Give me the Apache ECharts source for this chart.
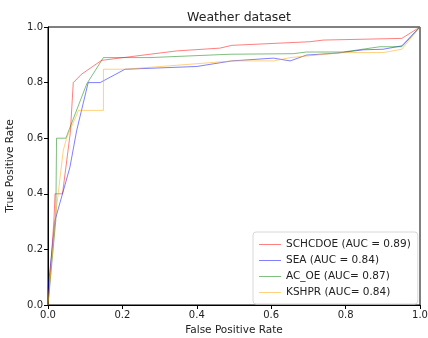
<!DOCTYPE html>
<html>
<head>
<meta charset="utf-8">
<script src="https://cdn.jsdelivr.net/npm/echarts@6/dist/echarts.min.js"></script>
<style>
  html, body { margin: 0; padding: 0; background: #fff; }
  #roc-chart { width: 428px; height: 338px; }
</style>
</head>
<body>
<div id="roc-chart"></div>
<script>
// ROC points
const schFpr = [0, 0.016, 0.019, 0.039, 0.060, 0.068, 0.09, 0.144, 0.274, 0.346, 0.462, 0.494, 0.704, 0.74, 0.951, 1];
const schTpr = [0, 0.305, 0.40, 0.40, 0.62, 0.80, 0.83, 0.88, 0.902, 0.914, 0.924, 0.934, 0.947, 0.953, 0.959, 1];

const seaFpr = [0, 0.001, 0.019, 0.039, 0.059, 0.077, 0.108, 0.14, 0.207, 0.40, 0.494, 0.606, 0.651, 0.695, 0.776, 0.848, 0.901, 0.951, 1];
const seaTpr = [0, 0.07, 0.305, 0.40, 0.496, 0.627, 0.80, 0.80, 0.848, 0.858, 0.878, 0.888, 0.878, 0.899, 0.906, 0.918, 0.92, 0.932, 1];

const acoeFpr = [0, 0.021, 0.023, 0.048, 0.104, 0.149, 0.274, 0.489, 0.659, 0.695, 0.794, 0.892, 0.951, 1];
const acoeTpr = [0, 0.305, 0.60, 0.60, 0.795, 0.89, 0.89, 0.902, 0.904, 0.91, 0.91, 0.929, 0.929, 1];

const kshFpr = [0, 0.019, 0.041, 0.05, 0.082, 0.149, 0.149, 0.207, 0.274, 0.498, 0.606, 0.651, 0.794, 0.901, 0.951, 1];
const kshTpr = [0, 0.305, 0.556, 0.60, 0.70, 0.70, 0.848, 0.848, 0.855, 0.878, 0.878, 0.89, 0.908, 0.908, 0.92, 1];

const seriesNames = ['SCHCDOE (AUC = 0.89)', 'SEA (AUC = 0.84)', 'AC_OE (AUC= 0.87)', 'KSHPR (AUC= 0.84)'];

const zip = (xs, ys) => xs.map((x, i) => [x, ys[i]]);

const font = 'DejaVu Sans';
const chart = echarts.init(document.getElementById('roc-chart'), null, { renderer: 'canvas' });

const mkLine = (name, xs, ys, color) => ({
  name,
  type: 'line',
  data: zip(xs, ys),
  symbol: 'none',
  showSymbol: false,
  lineStyle: { color, width: 1 },
  itemStyle: { color },
  animation: false,
});

const axisCommon = {
  type: 'value',
  min: 0,
  max: 1,
  interval: 0.2,
  splitLine: { show: false },
  axisLine: { show: true, lineStyle: { color: '#000', width: 1 } },
  axisTick: { show: true, inside: false, length: 4, lineStyle: { color: '#000' } },
  axisLabel: {
    color: '#222',
    fontFamily: font,
    fontSize: 10,
    margin: 5,
    formatter: (v) => v.toFixed(1),
  },
  nameLocation: 'middle',
  nameTextStyle: { color: '#222', fontFamily: font, fontSize: 10.5 },
};

const option = {
  backgroundColor: '#fff',
  animation: false,
  title: {
    text: 'Weather dataset',
    left: 234,
    top: 6,
    textAlign: 'center',
    textStyle: { color: '#222', fontFamily: font, fontSize: 12.5, fontWeight: 'normal' },
  },
  grid: {
    left: 48,
    right: 8,
    top: 27,
    bottom: 33,
    outerBoundsMode: 'none',
    containLabel: false,
    show: true,
    borderColor: '#000',
    borderWidth: 1,
  },
  legend: {
    orient: 'vertical',
    left: 253,
    top: 232,
    padding: [7, 7, 6, 6],
    itemGap: 5,
    icon: 'rect',
    itemWidth: 22,
    itemHeight: 1,
    backgroundColor: '#fff',
    borderColor: '#d8d8d8',
    borderWidth: 1,
    borderRadius: 3,
    textStyle: { color: '#222', fontFamily: font, fontSize: 10.5, lineHeight: 10.5 },
    data: seriesNames,
  },
  xAxis: Object.assign({}, axisCommon, {
    name: 'False Positive Rate',
    nameGap: 19,
  }),
  yAxis: Object.assign({}, axisCommon, {
    name: 'True Positive Rate',
    nameGap: 30,
  }),
  series: [
    mkLine(seriesNames[0], schFpr, schTpr, 'rgba(255,0,0,0.5)'),
    mkLine(seriesNames[1], seaFpr, seaTpr, 'rgba(0,0,255,0.5)'),
    mkLine(seriesNames[2], acoeFpr, acoeTpr, 'rgba(0,128,0,0.5)'),
    mkLine(seriesNames[3], kshFpr, kshTpr, 'rgba(255,165,0,0.5)'),
  ],
};

chart.setOption(option);
</script>
</body>
</html>
